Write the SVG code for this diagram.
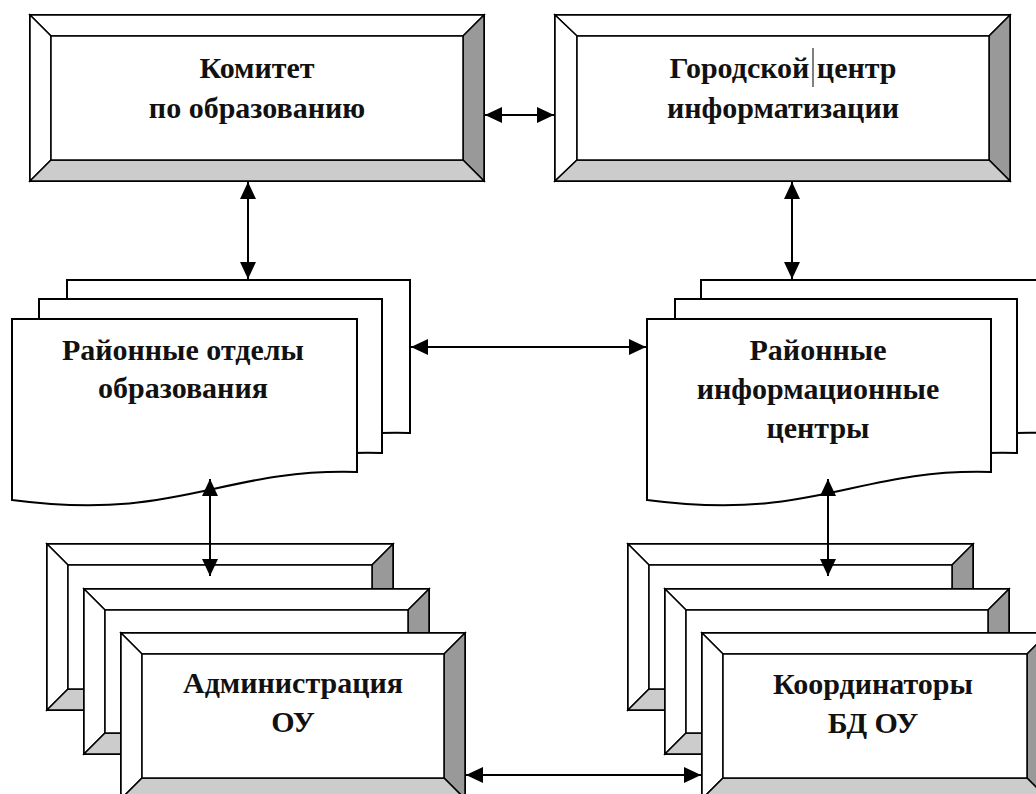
<svg xmlns="http://www.w3.org/2000/svg" width="1036" height="794" viewBox="0 0 1036 794">
<defs>
<style>
.o{fill:#fff;stroke:#000;stroke-width:2}
.w{fill:#fff;stroke:#000;stroke-width:1.5;stroke-linejoin:miter}
.d{fill:#999;stroke:#000;stroke-width:1.5}
.l{fill:#ccc;stroke:#000;stroke-width:1.5}
.i{fill:#fff;stroke:#000;stroke-width:1.5}
.doc{fill:#fff;stroke:#000;stroke-width:2}
.t{font-family:"Liberation Serif","Times New Roman",serif;font-weight:bold;font-size:30px;fill:#111;text-anchor:middle}
.c{fill:none;stroke:#000;stroke-width:2;marker-start:url(#ah);marker-end:url(#ah)}
</style>
<marker id="ah" markerUnits="userSpaceOnUse" markerWidth="18" markerHeight="18" refX="17" refY="8" orient="auto-start-reverse" viewBox="0 0 18 16">
<path d="M0,0 L17,8 L0,16 z" fill="#000"/>
</marker>
</defs>
<rect width="1036" height="794" fill="#fff"/>

<g id="komitet">
<rect class="o" x="30" y="15" width="454" height="166"/>
<polygon class="w" points="30,15 484,15 463,36 51,36"/>
<polygon class="w" points="30,15 51,36 51,160 30,181"/>
<polygon class="d" points="484,15 484,181 463,160 463,36"/>
<polygon class="l" points="30,181 484,181 463,160 51,160"/>
<rect class="i" x="51" y="36" width="412" height="124"/>
<text class="t" x="257" y="78">Комитет</text>
<text class="t" x="257" y="118">по образованию</text>
</g>

<g id="gorodskoy">
<rect class="o" x="555" y="15" width="455" height="166"/>
<polygon class="w" points="555,15 1010,15 989,36 577,36"/>
<polygon class="w" points="555,15 577,36 577,160 555,181"/>
<polygon class="d" points="1010,15 1010,181 989,160 989,36"/>
<polygon class="l" points="555,181 1010,181 989,160 577,160"/>
<rect class="i" x="577" y="36" width="412" height="124"/>
<text class="t" x="783" y="78">Городской центр</text>
<line x1="813" y1="48" x2="813" y2="87" stroke="#000" stroke-width="1"/>
<text class="t" x="783" y="118">информатизации</text>
</g>

<g id="rayon-otdely">
<path class="doc" d="M67,280 H410 V433 C275,429 235,481 67,461 Z"/>
<path class="doc" d="M39,299 H382 V453 C247,449 207,501 39,481 Z"/>
<path class="doc" d="M12,319 H357 V472 C220,468 180,522 12,500 Z"/>
<text class="t" x="183" y="360">Районные отделы</text>
<text class="t" x="183" y="398">образования</text>
</g>

<g id="rayon-centry">
<path class="doc" d="M701,280 H1044 V433 C909,429 869,481 701,461 Z"/>
<path class="doc" d="M675,299 H1017 V453 C881,449 841,501 675,481 Z"/>
<path class="doc" d="M647,319 H991 V472 C855,468 815,522 647,500 Z"/>
<text class="t" x="818" y="360">Районные</text>
<text class="t" x="818" y="399">информационные</text>
<text class="t" x="818" y="438">центры</text>
</g>

<g id="administraciya">
<g>
<rect class="o" x="47" y="544" width="346" height="166"/>
<polygon class="w" points="47,544 393,544 372,565 68,565"/>
<polygon class="w" points="47,544 68,565 68,689 47,710"/>
<polygon class="d" points="393,544 393,710 372,689 372,565"/>
<polygon class="l" points="47,710 393,710 372,689 68,689"/>
<rect class="i" x="68" y="565" width="304" height="124"/>
</g>
<g>
<rect class="o" x="84" y="589" width="345" height="165"/>
<polygon class="w" points="84,589 429,589 408,610 105,610"/>
<polygon class="w" points="84,589 105,610 105,733 84,754"/>
<polygon class="d" points="429,589 429,754 408,733 408,610"/>
<polygon class="l" points="84,754 429,754 408,733 105,733"/>
<rect class="i" x="105" y="610" width="303" height="123"/>
</g>
<g>
<rect class="o" x="121" y="633" width="344" height="166"/>
<polygon class="w" points="121,633 465,633 444,654 142,654"/>
<polygon class="w" points="121,633 142,654 142,778 121,799"/>
<polygon class="d" points="465,633 465,799 444,778 444,654"/>
<polygon class="l" points="121,799 465,799 444,778 142,778"/>
<rect class="i" x="142" y="654" width="302" height="124"/>
</g>
<text class="t" x="293" y="693">Администрация</text>
<text class="t" x="293" y="732">ОУ</text>
</g>

<g id="koordinatory">
<g>
<rect class="o" x="628" y="544" width="345" height="166"/>
<polygon class="w" points="628,544 973,544 952,565 649,565"/>
<polygon class="w" points="628,544 649,565 649,689 628,710"/>
<polygon class="d" points="973,544 973,710 952,689 952,565"/>
<polygon class="l" points="628,710 973,710 952,689 649,689"/>
<rect class="i" x="649" y="565" width="303" height="124"/>
</g>
<g>
<rect class="o" x="665" y="589" width="344" height="165"/>
<polygon class="w" points="665,589 1009,589 988,610 686,610"/>
<polygon class="w" points="665,589 686,610 686,733 665,754"/>
<polygon class="d" points="1009,589 1009,754 988,733 988,610"/>
<polygon class="l" points="665,754 1009,754 988,733 686,733"/>
<rect class="i" x="686" y="610" width="302" height="123"/>
</g>
<g>
<rect class="o" x="702" y="633" width="346" height="166"/>
<polygon class="w" points="702,633 1048,633 1027,654 723,654"/>
<polygon class="w" points="702,633 723,654 723,778 702,799"/>
<polygon class="d" points="1048,633 1048,799 1027,778 1027,654"/>
<polygon class="l" points="702,799 1048,799 1027,778 723,778"/>
<rect class="i" x="723" y="654" width="304" height="124"/>
</g>
<text class="t" x="873" y="694">Координаторы</text>
<text class="t" x="873" y="733">БД ОУ</text>
</g>

<g id="connectors">
<line class="c" x1="485" y1="115" x2="554" y2="115"/>
<line class="c" x1="248" y1="182" x2="248" y2="279"/>
<line class="c" x1="792" y1="182" x2="792" y2="279"/>
<line class="c" x1="411" y1="347" x2="646" y2="347"/>
<line class="c" x1="210" y1="479" x2="210" y2="576"/>
<line class="c" x1="828" y1="479" x2="828" y2="576"/>
<line class="c" x1="466" y1="775" x2="701" y2="775"/>
</g>
</svg>
